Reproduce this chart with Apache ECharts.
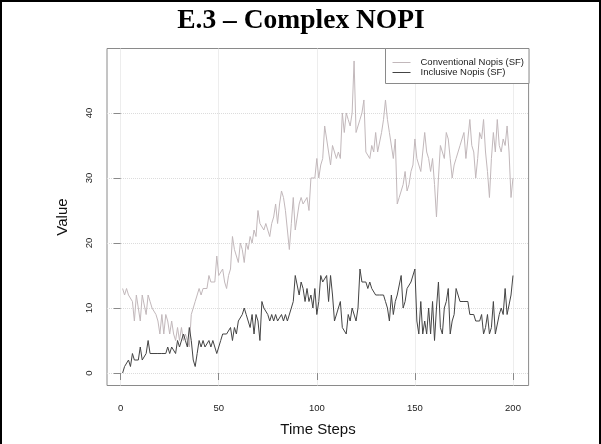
<!DOCTYPE html>
<html><head><meta charset="utf-8">
<script src="https://cdn.jsdelivr.net/npm/echarts@6/dist/echarts.min.js"></script>
<style>html,body{margin:0;padding:0;background:#fff}#c{width:601px;height:444px}</style>
</head><body><div id="c"></div>
<script>
const titleText = 'E.3 – Complex NOPI';
const xAxisName = 'Time Steps';
const yAxisName = 'Value';
const seriesNames = ['Conventional Nopis (SF)', 'Inclusive Nopis (SF)'];
const xTicks = [0, 50, 100, 150, 200];
const yTicks = [0, 10, 20, 30, 40];
const conventional = [
  13,12,13,12,12,11,8,12,12,8,12,12,9,12,11,10,10,9,8,6,9,6,9,8,6,
  8,6,5,7,5,7,5,6,5,4,9,10,11,12,13,12,13,13,13,15,14,14,14,18,15,
  15,16,14,13,15,16,21,19,18,17,20,19,17,20,19,21,20,22,21,25,23,23,22,23,23,
  21,23,24,26,23,26,28,27,25,22,19,23,27,22,24,26,27,26,26,27,25,30,30,30,33,
  30,32,33,38,36,34,32,35,34,33,34,33,40,37,40,39,38,40,48,37,38,39,40,42,34,
  34,33,35,34,37,34,34,37,39,42,39,37,37,33,36,26,27,27,29,31,28,29,31,32,36,
  33,32,31,31,37,34,33,31,33,29,24,30,35,34,33,37,36,33,30,32,33,33,35,36,37,
  33,36,39,35,34,30,33,37,36,39,34,31,27,33,37,34,39,35,34,36,35,38,34,27,30
];
const inclusive = [
  0,1,1,2,1,3,2,2,2,4,2,2,3,5,3,3,3,3,3,3,3,3,3,4,3,
  4,4,3,5,4,4,6,5,4,7,5,2,1,3,5,4,5,4,4,5,4,5,5,3,4,
  5,6,6,6,6,7,5,7,6,8,8,9,10,9,8,7,9,6,9,8,5,11,10,10,9,
  8,9,8,9,8,8,9,8,9,8,8,10,11,15,15,12,14,13,11,13,11,12,10,13,9,
  11,15,14,14,15,11,15,12,8,8,10,11,7,7,6,9,8,10,10,8,10,16,14,14,14,
  13,14,13,13,12,12,12,12,12,11,10,8,12,9,11,12,12,15,10,11,13,13,14,14,16,
  8,6,11,6,8,6,10,6,11,5,10,14,7,6,10,11,13,6,8,9,13,13,11,11,11,
  11,11,9,9,9,8,8,8,9,6,7,9,6,7,11,6,6,9,10,9,13,9,9,12,15
];

const chart = echarts.init(document.getElementById('c'), null, {renderer: 'canvas'});
const toPairs = arr => arr.map((v, i) => [i + 1, v]);
const sans = 'Liberation Sans, Arial, sans-serif';
const option = {
  animation: false,
  backgroundColor: '#fff',
  grid: {left: 107, right: 72.4, top: 48.5, bottom: 58.5, show: true, borderColor: '#8a8a8a', borderWidth: 1, backgroundColor: 'transparent'},
  xAxis: {
    type: 'value', min: -6.96, max: 207.96,
    axisLine: {show: false},
    axisTick: {show: true, customValues: xTicks, length: 7, lineStyle: {color: '#8a8a8a'}},
    axisLabel: {customValues: xTicks, fontSize: 9.5, fontFamily: sans, color: '#222', margin: 18},
    splitLine: {show: true, lineStyle: {type: 'dotted', color: '#dcdcdc'}}
  },
  yAxis: {
    type: 'value', min: -1.92, max: 49.92,
    axisLine: {show: false},
    axisTick: {show: true, customValues: yTicks, length: 7, lineStyle: {color: '#8a8a8a'}},
    axisLabel: {customValues: yTicks, rotate: 90, fontSize: 9.5, fontFamily: sans, color: '#222', margin: 13},
    splitLine: {show: true, lineStyle: {type: 'dotted', color: '#dcdcdc'}}
  },
  legend: {
    orient: 'vertical', right: 72, top: 48.5,
    padding: [9, 5, 6, 7], itemGap: 0, itemWidth: 18, itemHeight: 1,
    borderColor: '#8a8a8a', borderWidth: 1, backgroundColor: '#fff', borderRadius: 0,
    textStyle: {fontSize: 9.5, fontFamily: sans, color: '#222', lineHeight: 10, padding: [0, 0, 0, 5]},
    data: [{name: seriesNames[0], icon: 'rect'}, {name: seriesNames[1], icon: 'rect'}]
  },
  graphic: [
    {type: 'polyline', shape: {points: [[1, 444], [1, 1], [600, 1], [600, 444]]}, style: {stroke: '#000', lineWidth: 2, fill: null}, silent: true},
    {type: 'text', x: 301, y: 21, style: {text: titleText, font: 'bold 27.5px "Liberation Serif", "Times New Roman", serif', fill: '#000', textAlign: 'center', textVerticalAlign: 'middle'}},
    {type: 'text', x: 318, y: 430, style: {text: xAxisName, font: '15px ' + sans, fill: '#111', textAlign: 'center', textVerticalAlign: 'middle'}},
    {type: 'text', x: 63, y: 217, rotation: Math.PI / 2, style: {text: yAxisName, font: '15px ' + sans, fill: '#111', textAlign: 'center', textVerticalAlign: 'middle'}}
  ],
  series: [
    {name: seriesNames[0], type: 'line', data: toPairs(conventional), showSymbol: false, symbol: 'none', color: '#c2b8bb', lineStyle: {width: 1, color: '#c2b8bb'}, z: 2},
    {name: seriesNames[1], type: 'line', data: toPairs(inclusive), showSymbol: false, symbol: 'none', color: '#444', lineStyle: {width: 1, color: '#444'}, z: 3}
  ]
};
chart.setOption(option);
</script></body></html>
